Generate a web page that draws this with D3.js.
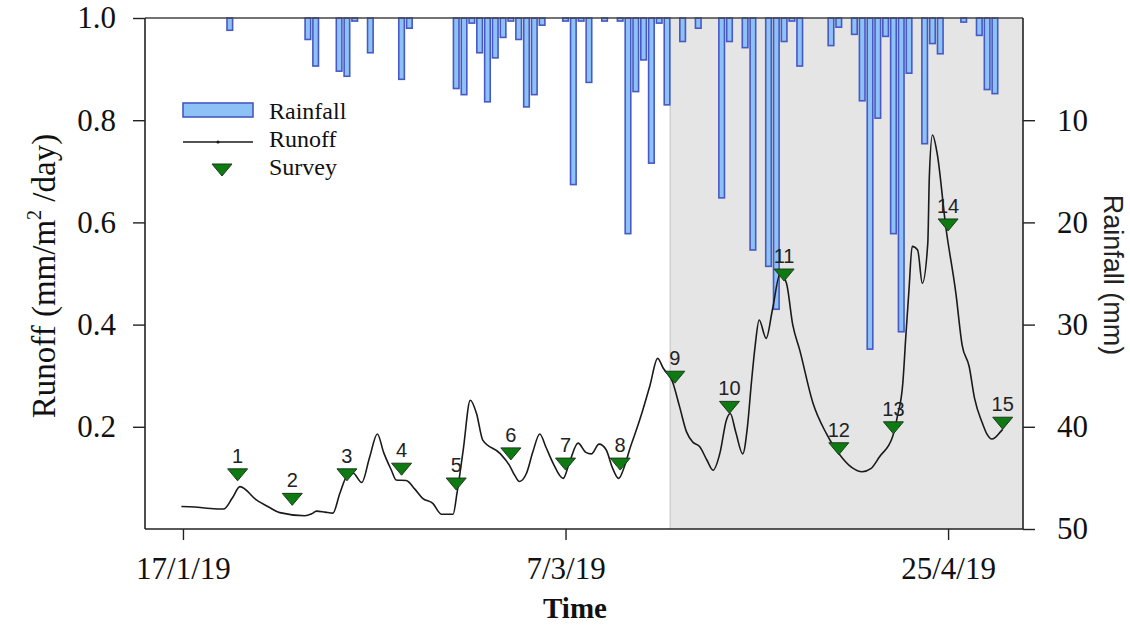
<!DOCTYPE html>
<html>
<head>
<meta charset="utf-8">
<script src="https://cdn.jsdelivr.net/npm/d3@7"></script>
<style>
  body { margin: 0; background: #fff; }
  svg { display: block; }
  .serif { font-family: "Liberation Serif", "Times New Roman", serif; fill: #111; }
  .sans { font-family: "Liberation Sans", Arial, sans-serif; fill: #222; }
</style>
</head>
<body>
<svg id="chart" width="1130" height="627"></svg>
<script>
// daily rainfall (mm)
var rainDates = ["2019-01-23","2019-02-02","2019-02-03","2019-02-06","2019-02-07","2019-02-08","2019-02-10",
  "2019-02-14","2019-02-15","2019-02-21","2019-02-22","2019-02-23","2019-02-24","2019-02-25","2019-02-26",
  "2019-02-27","2019-02-28","2019-03-01","2019-03-02","2019-03-03","2019-03-04","2019-03-07","2019-03-08",
  "2019-03-09","2019-03-10","2019-03-12","2019-03-14","2019-03-15","2019-03-16","2019-03-17","2019-03-18",
  "2019-03-19","2019-03-20","2019-03-22","2019-03-24","2019-03-27","2019-03-28","2019-03-30","2019-03-31",
  "2019-04-02","2019-04-03","2019-04-04","2019-04-05","2019-04-06","2019-04-10","2019-04-11","2019-04-13",
  "2019-04-14","2019-04-15","2019-04-16","2019-04-17","2019-04-18","2019-04-19","2019-04-20","2019-04-22",
  "2019-04-23","2019-04-24","2019-04-27","2019-04-29","2019-04-30","2019-05-01"];
var rainValues = [1.2,2.1,4.7,5.2,5.7,0.3,3.4,
  6.0,1.0,6.9,7.5,0.5,3.4,8.2,3.9,
  1.9,0.3,2.1,8.7,7.5,0.7,0.3,16.3,
  0.3,6.3,0.3,0.3,21.1,7.2,4.1,14.2,
  0.5,8.5,2.3,1.0,17.6,2.3,2.9,22.7,
  24.3,28.5,2.3,0.3,4.7,2.7,0.9,1.6,
  8.1,32.4,9.8,1.8,21.1,30.7,5.4,12.3,
  2.5,3.5,0.4,1.7,7.0,7.4];

// runoff trace (days after 17/1/19, mm/m2/day)
var runoffDays = [-0.2,1.5,3.5,5.2,6.3,7.3,9.4,11.1,12.4,15.6,16.5,17.1,18.2,19.2,20.1,21.1,21.8,22.9,23.9,24.9,
  25.7,26.7,27.3,28.6,29.7,30.7,32.0,33.1,34.6,35.1,35.9,36.8,37.6,38.4,40.6,41.8,42.5,43.1,44.0,44.8,
  45.7,46.5,47.4,48.7,49.5,50.6,51.6,52.3,53.3,54.2,55.0,55.8,56.6,57.2,58.1,58.9,59.8,60.8,61.5,62.7,
  63.6,64.5,65.3,66.2,67.1,67.9,68.8,69.6,70.1,70.8,71.7,72.3,72.8,73.3,73.8,74.7,75.5,76.5,77.3,78.1,
  79.0,80.7,82.4,84.5,85.7,87.0,88.1,89.2,90.9,91.5,92.2,92.6,93.0,93.4,94.1,94.7,95.4,95.6,96.0,96.6,
  97.7,99.0,99.8,100.7,101.4,102.4,103.0,103.6,104.1,104.7,105.0];
var runoffValues = [0.044,0.043,0.040,0.039,0.060,0.083,0.057,0.042,0.032,0.026,0.030,0.035,0.033,0.031,0.070,0.106,0.109,0.091,0.140,0.186,
  0.150,0.115,0.096,0.095,0.078,0.060,0.050,0.029,0.029,0.070,0.155,0.252,0.226,0.174,0.148,0.125,0.105,0.093,0.109,0.150,
  0.186,0.160,0.129,0.099,0.130,0.168,0.150,0.147,0.166,0.155,0.120,0.099,0.125,0.155,0.195,0.233,0.280,0.334,0.315,0.288,
  0.240,0.190,0.170,0.161,0.135,0.115,0.150,0.213,0.226,0.190,0.147,0.200,0.285,0.360,0.409,0.373,0.429,0.500,0.481,0.400,
  0.350,0.246,0.187,0.138,0.120,0.112,0.118,0.141,0.181,0.220,0.285,0.380,0.470,0.553,0.546,0.481,0.559,0.690,0.771,0.735,
  0.592,0.461,0.360,0.318,0.255,0.207,0.185,0.176,0.180,0.190,0.195];

// weekly survey
var surveyDates = ["2019-01-24","2019-01-31","2019-02-07","2019-02-14","2019-02-21","2019-02-28","2019-03-07",
  "2019-03-14","2019-03-21","2019-03-28","2019-04-04","2019-04-11","2019-04-18","2019-04-25","2019-05-02"];
var surveyValues = [0.106,0.058,0.106,0.117,0.088,0.147,0.127,0.127,0.297,0.238,0.497,0.157,0.198,0.595,0.207];

var xTicks = ["2019-01-17","2019-03-07","2019-04-25"];
var runoffTicks = [0.2,0.4,0.6,0.8,1.0];
var rainTicks = [10,20,30,40,50];
var shadeStart = "2019-03-20T10:00:00Z";

var parse = function(s) { return new Date(s.length > 10 ? s : s + "T00:00:00Z"); };
var base = parse("2019-01-17");

var pL = 145, pR = 1023, pT = 18, pB = 529;
var svg = d3.select("#chart");

var x = d3.scaleUtc()
  .domain([new Date(Date.UTC(2019,0,12,3,19)), new Date(Date.UTC(2019,4,4,14,18))])
  .range([pL, pR]);
var yRun = d3.scaleLinear().domain([0, 1]).range([pB, pT]);
var yRain = d3.scaleLinear().domain([0, 50]).range([pT, pB]);

// shaded period
var sx = x(parse(shadeStart));
svg.append("rect")
  .attr("x", sx).attr("y", pT)
  .attr("width", pR - sx).attr("height", pB - pT)
  .attr("fill", "#e5e5e5");
svg.append("line")
  .attr("x1", sx).attr("x2", sx)
  .attr("y1", pT).attr("y2", pB)
  .attr("stroke", "#cfcfcf").attr("stroke-width", 1.5);

// rainfall bars hanging from the top
var bw = 5.6;
svg.append("g").selectAll("rect")
  .data(rainDates)
  .enter()
  .append("rect")
  .attr("x", function(d) { return x(parse(d)) - bw / 2; })
  .attr("y", pT)
  .attr("width", bw)
  .attr("height", function(d, i) { return yRain(rainValues[i]) - pT; })
  .attr("fill", "#8cc2f5")
  .attr("stroke", "#4858c4")
  .attr("stroke-width", 1.6);

// runoff line
var runPts = runoffDays.map(function(d, i) {
  return [new Date(base.getTime() + d * 864e5), runoffValues[i]];
});
svg.append("path")
  .datum(runPts)
  .attr("fill", "none")
  .attr("stroke", "#1a1a1a")
  .attr("stroke-width", 1.6)
  .attr("d", d3.line()
    .x(function(d) { return x(d[0]); })
    .y(function(d) { return yRun(d[1]); })
    .curve(d3.curveMonotoneX));

// survey markers
var tri = function(cx, cy) {
  return "M" + (cx - 10) + "," + (cy - 6) + "L" + (cx + 10) + "," + (cy - 6) + "L" + cx + "," + (cy + 6) + "Z";
};
var sg = svg.append("g");
surveyDates.forEach(function(d, i) {
  var cx = x(parse(d)), cy = yRun(surveyValues[i]);
  sg.append("path").attr("d", tri(cx, cy))
    .attr("fill", "#0d7a12").attr("stroke", "#1d3b1d").attr("stroke-width", 1);
  sg.append("text").attr("class", "sans")
    .attr("x", cx).attr("y", cy - 12)
    .attr("text-anchor", "middle")
    .attr("font-size", 20)
    .text(i + 1);
});

// frame + axes
svg.append("line").attr("x1", pL).attr("x2", pR).attr("y1", pT).attr("y2", pT)
  .attr("stroke", "#444").attr("stroke-width", 1.6);

var yl = svg.append("g").attr("transform", "translate(" + pL + ",0)")
  .call(d3.axisLeft(yRun).tickValues(runoffTicks).tickSize(12).tickPadding(17).tickFormat(d3.format(".1f")));
var yr = svg.append("g").attr("transform", "translate(" + pR + ",0)")
  .call(d3.axisRight(yRain).tickValues(rainTicks).tickSize(12).tickPadding(22));
var xb = svg.append("g").attr("transform", "translate(0," + pB + ")")
  .call(d3.axisBottom(x).tickValues(xTicks.map(parse)).tickSize(11).tickPadding(17)
    .tickFormat(d3.utcFormat("%-d/%-m/%y")));

[yl, yr, xb].forEach(function(g) {
  g.select(".domain").attr("stroke", "#222").attr("stroke-width", 1.6);
  g.selectAll(".tick line").attr("stroke", "#222").attr("stroke-width", 1.4);
  g.selectAll(".tick text").attr("class", "serif").attr("font-size", 31).attr("fill", "#111");
});
yl.select(".domain").attr("d", "M0," + pT + "V" + pB);
yr.select(".domain").attr("d", "M0," + pT + "V" + pB);
xb.select(".domain").attr("d", "M" + pL + ",0H" + pR);

// axis titles
var yt = svg.append("text").attr("class", "serif")
  .attr("transform", "translate(55,276) rotate(-90)")
  .attr("text-anchor", "middle").attr("font-size", 33);
yt.append("tspan").text("Runoff (mm/m");
yt.append("tspan").attr("font-size", 20).attr("dy", -14).text("2");
yt.append("tspan").attr("dy", 14).text(" /day)");

svg.append("text").attr("class", "sans")
  .attr("transform", "translate(1104,275) rotate(90)")
  .attr("text-anchor", "middle").attr("font-size", 27).attr("fill", "#111")
  .text("Rainfall (mm)");

svg.append("text").attr("class", "serif")
  .attr("x", 575).attr("y", 618)
  .attr("text-anchor", "middle").attr("font-size", 29).attr("font-weight", "bold")
  .text("Time");

// legend
var lg = svg.append("g");
lg.append("rect").attr("x", 183).attr("y", 103).attr("width", 70).attr("height", 14)
  .attr("fill", "#8cc2f5").attr("stroke", "#4858c4").attr("stroke-width", 1.6);
lg.append("line").attr("x1", 183).attr("x2", 253).attr("y1", 142).attr("y2", 142)
  .attr("stroke", "#1a1a1a").attr("stroke-width", 1.6);
lg.append("circle").attr("cx", 218).attr("cy", 142).attr("r", 1.6).attr("fill", "#1a1a1a");
lg.append("path").attr("d", tri(222, 170))
  .attr("fill", "#0d7a12").attr("stroke", "#1d3b1d").attr("stroke-width", 1);
var legText = ["Rainfall", "Runoff", "Survey"];
legText.forEach(function(t, i) {
  lg.append("text").attr("class", "serif")
    .attr("x", 269).attr("y", 119 + i * 28)
    .attr("font-size", 24)
    .text(t);
});
</script>
</body>
</html>
